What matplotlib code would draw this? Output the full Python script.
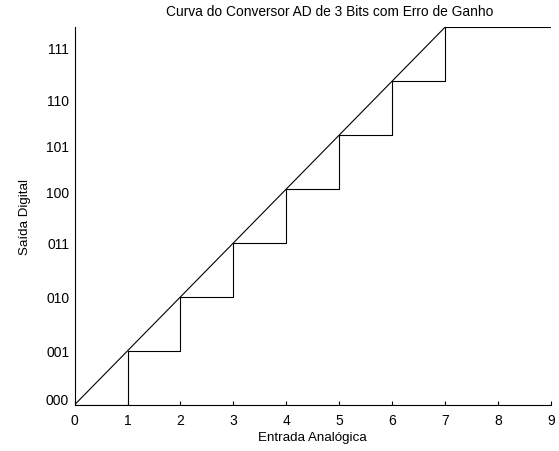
import matplotlib
matplotlib.use("Agg")
import matplotlib.pyplot as plt
import numpy as np

# transfer curve of a 3-bit AD converter with gain error
entrada = [0, 1, 2, 3, 4, 5, 6, 7, 9]
saida = [0, 1, 2, 3, 4, 5, 6, 7, 7]
ideal_x = [0, 7]
ideal_y = [0, 7]

codigos = ["000", "001", "010", "011", "100", "101", "110", "111"]
pos_codigos = [0.12, 1.0, 2.0, 3.0, 3.95, 4.8, 5.67, 6.62]
xticks = list(range(10))

plt.rcParams['font.family'] = ['Liberation Sans', 'DejaVu Sans']

fig = plt.figure(figsize=(5.59, 4.52), dpi=100)
ax = fig.add_axes([0.1336, 0.1024, 0.8516, 0.835])

ax.step(entrada, saida, where="post", color="black", lw=0.8)
ax.plot(ideal_x, ideal_y, color="black", lw=0.8)

ax.set_xlim(0, 9)
ax.set_ylim(0, 7)
ax.set_xticks(xticks)
ax.set_yticks(pos_codigos)
ax.set_yticklabels(codigos)
ax.tick_params(axis="x", direction="in", length=3, width=0.8, labelsize=10, pad=6)
ax.tick_params(axis="y", length=0, labelsize=10, pad=4)

for s in ["top", "right"]:
    ax.spines[s].set_visible(False)
for s in ["left", "bottom"]:
    ax.spines[s].set_linewidth(0.8)

ax.set_title("Curva do Conversor AD de 3 Bits com Erro de Ganho", fontsize=9.9, pad=9, x=0.535)
ax.set_xlabel("Entrada Analógica", fontsize=9.6, labelpad=3)
ax.set_ylabel("Saída Digital", fontsize=9.6, labelpad=11)

fig.savefig("out.png", dpi=100)
